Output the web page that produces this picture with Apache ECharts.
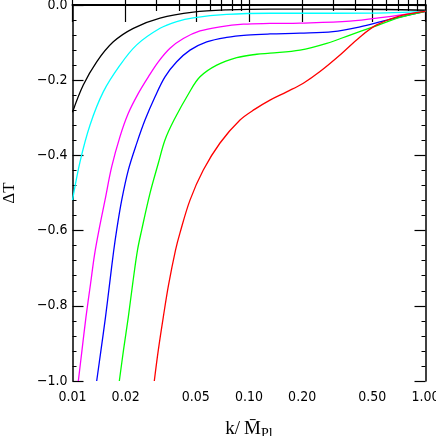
<!DOCTYPE html>
<html lang="en">
<head>
<meta charset="UTF-8">
<title>Delta T vs k</title>
<style>
  html, body { margin: 0; padding: 0; background: #fff; }
  #chart { width: 436px; height: 436px; }
</style>
</head>
<body>
<div id="chart"></div>
<script src="https://cdn.jsdelivr.net/npm/echarts@6/dist/echarts.min.js"></script>
<script>
// tick positions on k axis
var kMajor = [0.01, 0.02, 0.05, 0.1, 0.2, 0.5, 1];
var kMinor = [0.03, 0.04, 0.06, 0.07, 0.08, 0.09, 0.3, 0.4, 0.6, 0.7, 0.8, 0.9];

// curves: k and Delta T
var blackK = [0.01, 0.01151, 0.01371, 0.01703, 0.02211, 0.03132, 0.04835, 0.07474, 0.1315, 0.3, 0.6, 1];
var blackT = [-0.285, -0.213, -0.151, -0.098, -0.062, -0.035, -0.019, -0.013, -0.011, -0.011, -0.012, -0.014];

var cyanK = [0.01, 0.01103, 0.01257, 0.01494, 0.01858, 0.02311, 0.03132, 0.03894, 0.04835, 0.07474, 0.1315, 0.3, 0.6, 1];
var cyanT = [-0.519, -0.417, -0.319, -0.231, -0.160, -0.106, -0.062, -0.044, -0.034, -0.025, -0.022, -0.022, -0.021, -0.017];

var magentaK = [0.01079, 0.01132, 0.01192, 0.01265, 0.01332, 0.01413, 0.01528, 0.01668, 0.01858, 0.02071, 0.0236, 0.02689, 0.03063, 0.03568, 0.04245, 0.05277, 0.06851, 0.09284, 0.1315, 0.1945, 0.3735, 0.5743, 1];
var magentaT = [-1.0, -0.918, -0.830, -0.742, -0.665, -0.598, -0.519, -0.430, -0.350, -0.288, -0.235, -0.191, -0.151, -0.115, -0.089, -0.069, -0.058, -0.051, -0.049, -0.048, -0.043, -0.033, -0.017];

var blueK = [0.01371, 0.0145, 0.01538, 0.01625, 0.01708, 0.0178, 0.019, 0.02071, 0.02311, 0.02575, 0.02935, 0.03342, 0.03894, 0.04632, 0.05759, 0.07474, 0.09705, 0.1315, 0.1945, 0.2992, 0.4256, 0.6053, 1];
var blueT = [-1.0, -0.918, -0.830, -0.739, -0.657, -0.598, -0.519, -0.439, -0.368, -0.306, -0.244, -0.191, -0.151, -0.120, -0.098, -0.086, -0.080, -0.077, -0.075, -0.071, -0.058, -0.040, -0.017];

var greenK = [0.01842, 0.01945, 0.02071, 0.02196, 0.02335, 0.02467, 0.02748, 0.03063, 0.03342, 0.03759, 0.04572, 0.05277, 0.06563, 0.08518, 0.1106, 0.1315, 0.1945, 0.2756, 0.3735, 0.5062, 0.7169, 1];
var greenT = [-1.0, -0.918, -0.830, -0.739, -0.652, -0.598, -0.501, -0.421, -0.359, -0.306, -0.234, -0.191, -0.160, -0.140, -0.131, -0.128, -0.120, -0.102, -0.080, -0.058, -0.033, -0.017];

var redK = [0.02907, 0.03063, 0.03269, 0.03499, 0.03834, 0.04065, 0.04632, 0.05509, 0.06851, 0.08892, 0.1081, 0.1315, 0.1635, 0.2031, 0.2525, 0.3278, 0.4256, 0.5291, 0.7169, 1];
var redT = [-1.0, -0.918, -0.830, -0.745, -0.652, -0.606, -0.519, -0.439, -0.367, -0.306, -0.277, -0.253, -0.231, -0.208, -0.177, -0.133, -0.085, -0.053, -0.029, -0.017];

function pairs(xs, ys) {
  var out = [];
  for (var i = 0; i < xs.length; i++) out.push([xs[i], ys[i]]);
  return out;
}

var labelFont = '"Liberation Sans Narrow", "DejaVu Sans Condensed", sans-serif';

function kAxis(pos, ticks, len, withLabels) {
  return {
    type: 'log',
    logBase: 10,
    min: 0.01,
    max: 1,
    position: pos,
    axisLine: { show: true, lineStyle: { color: '#000', width: 1.5 } },
    axisTick: { show: true, inside: true, length: len, customValues: ticks, lineStyle: { color: '#000', width: 1.2 } },
    axisLabel: {
      show: withLabels,
      customValues: kMajor,
      margin: 9,
      color: '#000',
      fontFamily: labelFont,
      fontSize: 14,
      formatter: function (v) { return Number(v).toFixed(2); }
    },
    splitLine: { show: false },
    minorTick: { show: false }
  };
}

function tAxis(pos, withLabels) {
  return {
    type: 'value',
    min: -1,
    max: 0,
    interval: 0.2,
    position: pos,
    axisLine: { show: true, lineStyle: { color: '#000', width: 1.5 } },
    axisTick: { show: true, inside: true, length: 11, lineStyle: { color: '#000', width: 1.2 } },
    minorTick: { show: true, splitNumber: 5, length: 4, lineStyle: { color: '#000', width: 1 } },
    axisLabel: {
      show: withLabels,
      margin: 5,
      color: '#000',
      fontFamily: labelFont,
      fontSize: 14,
      formatter: function (v) { return v.toFixed(1).replace('-', '\u2212'); }
    },
    splitLine: { show: false },
    minorSplitLine: { show: false }
  };
}

var xMain = kAxis('bottom', kMajor, 17, true);
xMain.name = '{a|k/}{b|M\u0304}{c|Pl}';
xMain.nameLocation = 'middle';
xMain.nameGap = 36;
xMain.nameTextStyle = {
  rich: {
    a: { fontFamily: '"Liberation Serif", serif', fontSize: 19, color: '#000' },
    b: { fontFamily: '"Liberation Serif", serif', fontSize: 19, color: '#000', padding: [0, 0, 0, 4] },
    c: { fontFamily: '"Liberation Serif", serif', fontSize: 14, color: '#000', padding: [10, 0, 0, 0] }
  }
};

var yMain = tAxis('left', true);
yMain.name = '\u0394T';
yMain.nameLocation = 'middle';
yMain.nameGap = 54;
yMain.nameTextStyle = { fontFamily: '"Liberation Serif", serif', fontSize: 17, color: '#000' };

var option = {
  animation: false,
  backgroundColor: '#fff',
  grid: { left: 72.5, right: 10.5, top: 5, bottom: 55, containLabel: false, outerBoundsMode: 'none' },
  xAxis: [
    xMain,
    kAxis('bottom', kMinor, 6, false),
    kAxis('top', kMajor, 17, false),
    kAxis('top', kMinor, 6, false)
  ],
  yAxis: [yMain, tAxis('right', false)],
  series: [
    { name: 'black', data: pairs(blackK, blackT), color: '#000000' },
    { name: 'cyan', data: pairs(cyanK, cyanT), color: '#00ffff' },
    { name: 'magenta', data: pairs(magentaK, magentaT), color: '#ff00ff' },
    { name: 'blue', data: pairs(blueK, blueT), color: '#0000ff' },
    { name: 'green', data: pairs(greenK, greenT), color: '#00ff00' },
    { name: 'red', data: pairs(redK, redT), color: '#ff0000' }
  ].map(function (s) {
    return {
      type: 'line',
      name: s.name,
      data: s.data,
      xAxisIndex: 0,
      yAxisIndex: 0,
      showSymbol: false,
      smooth: 0.35,
      lineStyle: { color: s.color, width: 1.3 },
      itemStyle: { color: s.color }
    };
  })
};

var chart = echarts.init(document.getElementById('chart'));
chart.setOption(option);
</script>
</body>
</html>
